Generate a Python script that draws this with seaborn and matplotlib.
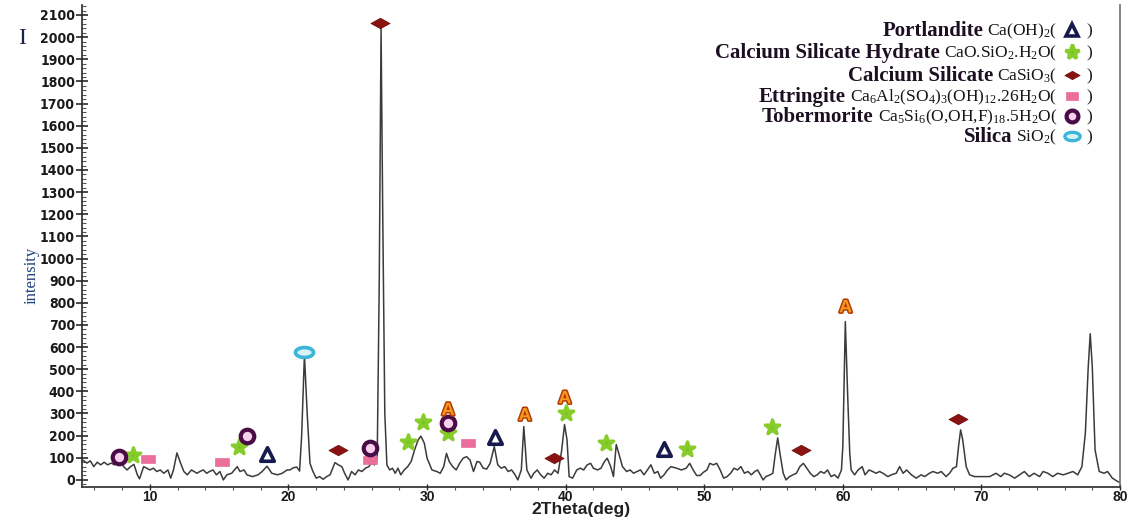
import numpy as np
import matplotlib
matplotlib.use("Agg")
import matplotlib.pyplot as plt
import seaborn as sns
from matplotlib import font_manager
from matplotlib.lines import Line2D
from matplotlib.path import Path
from matplotlib.offsetbox import TextArea, DrawingArea, HPacker, AnnotationBbox
from matplotlib.ticker import MultipleLocator
import matplotlib.patheffects as pe

# ---- XRD trace (2-theta in degrees, counts) ----
two_theta = [
    5.0, 5.2, 5.45, 5.7, 5.95, 6.2, 6.45, 6.7, 6.95, 7.2, 7.45, 7.8, 8.1, 8.35, 8.6,
    8.85, 9.1, 9.25, 9.55, 9.8, 10.0, 10.25, 10.5, 10.75, 11.0, 11.3, 11.5, 11.7, 11.95,
    12.2, 12.45, 12.7, 13.0, 13.4, 13.6, 13.85, 14.1, 14.3, 14.55, 14.8, 15.05, 15.3,
    15.55, 15.9, 16.3, 16.5, 16.8, 17.0, 17.4, 17.8, 18.1, 18.45, 18.8, 19.2, 19.55,
    19.9, 20.1, 20.35, 20.6, 20.8, 20.95, 21.15, 21.35, 21.55, 21.75, 22.0, 22.25, 22.5,
    22.75, 23.0, 23.35, 23.6, 23.85, 24.05, 24.3, 24.55, 24.8, 25.05, 25.3, 25.55, 25.8,
    26.0, 26.2, 26.4, 26.55, 26.68, 26.8, 26.95, 27.1, 27.3, 27.5, 27.7, 27.9, 28.1,
    28.35, 28.6, 28.85, 29.1, 29.35, 29.55, 29.8, 30.0, 30.35, 30.7, 30.95, 31.2, 31.4,
    31.6, 31.85, 32.1, 32.35, 32.6, 32.85, 33.1, 33.35, 33.6, 33.8, 34.05, 34.3, 34.55,
    34.85, 35.1, 35.35, 35.6, 35.85, 36.1, 36.35, 36.55, 36.8, 36.98, 37.2, 37.5, 37.7,
    37.95, 38.2, 38.45, 38.7, 38.95, 39.2, 39.45, 39.7, 39.92, 40.1, 40.25, 40.5, 40.8,
    41.05, 41.3, 41.55, 41.8, 42.0, 42.3, 42.55, 42.8, 43.0, 43.25, 43.45, 43.65, 43.9,
    44.1, 44.4, 44.65, 44.9, 45.15, 45.4, 45.65, 45.9, 46.15, 46.4, 46.65, 46.85, 47.1,
    47.35, 47.6, 48.0, 48.35, 48.7, 48.95, 49.2, 49.45, 49.7, 49.95, 50.2, 50.4, 50.65,
    50.9, 51.15, 51.4, 51.65, 51.9, 52.15, 52.4, 52.65, 52.9, 53.15, 53.4, 53.65, 53.85,
    54.05, 54.25, 54.45, 54.75, 54.95, 55.1, 55.3, 55.5, 55.7, 55.9, 56.15, 56.4, 56.65,
    56.9, 57.15, 57.4, 57.65, 57.9, 58.15, 58.4, 58.65, 58.9, 59.15, 59.4, 59.65, 59.9,
    60.0, 60.18, 60.35, 60.5, 60.6, 60.85, 61.1, 61.4, 61.6, 61.9, 62.15, 62.4, 62.65,
    62.9, 63.25, 63.5, 63.85, 64.1, 64.35, 64.6, 64.95, 65.3, 65.65, 65.9, 66.25, 66.5,
    66.85, 67.1, 67.45, 67.7, 67.95, 68.2, 68.35, 68.5, 68.65, 68.9, 69.15, 69.5, 70.1,
    70.6, 71.05, 71.4, 71.65, 72.0, 72.4, 72.75, 73.1, 73.45, 73.8, 74.2, 74.45, 74.8,
    75.15, 75.5, 75.9, 76.25, 76.6, 76.95, 77.25, 77.5, 77.7, 77.85, 78.0, 78.2, 78.5,
    78.85, 79.1, 79.45, 79.85, 80.0,
]
intensity = [
    80, 88, 76, 86, 60, 80, 68, 80, 68, 76, 68, 98, 60, 45, 60,
    70, 22, 5, 60, 52, 45, 53, 38, 45, 30, 45, 8, 45, 122,
    78, 38, 23, 45, 30, 38, 45, 30, 38, 45, 23, 38, 0,
    23, 30, 60, 38, 45, 23, 15, 23, 38, 62, 30, 23, 30,
    45, 45, 55, 58, 40, 200, 565, 300, 75, 40, 8, 15, 3,
    15, 23, 78, 68, 60, 30, 0, 38, 23, 45, 38, 53, 60,
    78, 68, 90, 900, 2040, 1200, 300, 68, 45, 53, 30, 53, 23,
    45, 60, 83, 136, 180, 198, 166, 98, 45, 38, 30, 60, 120,
    83, 60, 45, 75, 98, 105, 90, 38, 83, 80, 53, 49, 75,
    151, 68, 53, 60, 38, 45, 23, 0, 45, 241, 45, 8, 30,
    45, 23, 8, 30, 23, 45, 30, 128, 250, 180, 15, 8, 45,
    53, 45, 68, 75, 53, 45, 53, 83, 98, 60, 15, 160, 105,
    60, 38, 45, 30, 38, 45, 23, 45, 68, 30, 38, 8, 23,
    45, 60, 53, 45, 53, 75, 45, 20, 20, 35, 45, 75, 68,
    75, 45, 8, 15, 30, 53, 45, 60, 30, 38, 23, 38, 45,
    23, 0, 15, 23, 30, 105, 190, 105, 30, 0, 15, 23, 30,
    60, 75, 53, 30, 15, 23, 38, 30, 45, 15, 23, 8, 45,
    151, 715, 380, 120, 45, 23, 45, 60, 23, 45, 38, 30, 38,
    30, 15, 23, 30, 60, 30, 45, 23, 8, 23, 15, 30, 38,
    30, 38, 15, 30, 53, 60, 151, 226, 181, 60, 23, 15, 15,
    15, 30, 15, 30, 23, 8, 23, 38, 15, 30, 15, 38, 30,
    15, 30, 23, 30, 38, 23, 60, 211, 500, 660, 512, 136, 38,
    30, 38, 8, -8, -10,
]

# ---- phase identification marks (2-theta, height of the symbol) ----
portlandite_x = [18.46, 34.89, 47.11]
portlandite_y = [116, 193, 140]
csh_x = [8.8, 16.44, 28.64, 29.72, 31.52, 40.0, 42.9, 48.77, 54.92]
csh_y = [113, 150, 173, 260, 211, 301, 166, 140, 238]
cas_x = [23.59, 26.6, 39.15, 57.0, 68.32]
cas_y = [135, 2064, 100, 135, 275]
ettringite_x = [9.83, 15.17, 25.87, 32.97]
ettringite_y = [95, 83, 92, 166]
tobermorite_x = [7.79, 16.97, 25.87, 31.52]
tobermorite_y = [105, 199, 143, 256]
silica_x = [21.1]
silica_y = [578]
a_x = [31.52, 37.06, 39.94, 60.2]
a_y = [313, 289, 366, 777]

x_ticks = [10, 20, 30, 40, 50, 60, 70, 80]
y_ticks = list(range(0, 2200, 100))

# ---- fonts ----
sns.set_theme(style="white")
available = {f.name for f in font_manager.fontManager.ttflist}


def pick(*names):
    for n in names:
        if n in available:
            return n
    return "DejaVu Sans"


serif = pick("Liberation Serif", "DejaVu Serif")
sans = pick("Liberation Sans", "DejaVu Sans")
narrow = pick("Liberation Sans Narrow", "DejaVu Sans")
plt.rcParams["font.family"] = [sans, "DejaVu Sans"]
plt.rcParams["mathtext.fontset"] = "custom"
plt.rcParams["mathtext.rm"] = serif
plt.rcParams["mathtext.it"] = serif + ":italic"
plt.rcParams["mathtext.bf"] = serif + ":bold"

# ---- custom marker shapes ----
wide_diamond = Path([(-1, 0), (0, 0.55), (1, 0), (0, -0.55), (-1, 0)], closed=True)
flat_rect = Path([(-1, -0.6), (1, -0.6), (1, 0.6), (-1, 0.6), (-1, -0.6)], closed=True)
t = np.linspace(0, 2 * np.pi, 40)
eye = Path(np.column_stack([np.cos(t), 0.55 * np.sin(t)]), closed=True)

fig = plt.figure(figsize=(11.28, 5.19), dpi=100)
ax = fig.add_axes([82 / 1128, 32 / 519, 1038 / 1128, 482 / 519])

sns.lineplot(x=two_theta, y=intensity, sort=False, estimator=None,
             color="#3b3b3b", linewidth=1.1, ax=ax, zorder=2)

styles = {
    "portlandite": dict(marker="^", s=95, color="white", edgecolor="#171a4c", linewidth=2.6),
    "csh": dict(marker="*", s=120, color="#7ac41e", edgecolor="#86cc2a", linewidth=2.4),
    "cas": dict(marker=wide_diamond, s=190, color="#8c1212", edgecolor="#6a0a0a", linewidth=0.5),
    "ettringite": dict(marker=flat_rect, s=110, color="#ec6e9c", edgecolor="#ec6e9c", linewidth=0.5),
    "tobermorite": dict(marker="o", s=95, color="#f6d0ec", edgecolor="#4a0c46", linewidth=3.0),
    "silica": dict(marker=eye, s=170, color="#d8f2fa", edgecolor="#3cb6d8", linewidth=2.6),
}
for (xs, ys, key) in [
    (portlandite_x, portlandite_y, "portlandite"),
    (csh_x, csh_y, "csh"),
    (cas_x, cas_y, "cas"),
    (ettringite_x, ettringite_y, "ettringite"),
    (tobermorite_x, tobermorite_y, "tobermorite"),
    (silica_x, silica_y, "silica"),
]:
    sns.scatterplot(x=xs, y=ys, ax=ax, zorder=4, legend=False, **styles[key])

for xa, ya in zip(a_x, a_y):
    ax.text(xa, ya, "A", ha="center", va="center", fontsize=13, fontweight="bold",
            color="#f59a1c", family=[sans],
            path_effects=[pe.Stroke(linewidth=2.2, foreground="#b23a06"), pe.Normal()],
            zorder=5)

# ---- axes ----
ax.set_xlim(5.1, 80)
ax.set_ylim(-32, 2145)
ax.set_xticks(x_ticks)
ax.set_yticks(y_ticks)
ax.xaxis.set_minor_locator(MultipleLocator(2))
ax.yaxis.set_minor_locator(MultipleLocator(20))
for side in ["left", "bottom", "right"]:
    ax.spines[side].set_visible(True)
    ax.spines[side].set_color("#2a2a2a")
    ax.spines[side].set_linewidth(1.2)
ax.spines["right"].set_color("#707070")
ax.spines["top"].set_visible(False)

ax.tick_params(axis="y", which="major", direction="inout", length=8, width=1.2,
               color="#2a2a2a", pad=1, left=True)
ax.tick_params(axis="y", which="minor", direction="in", length=3, width=0.8,
               color="#555555", left=True)
ax.tick_params(axis="x", which="major", direction="inout", length=4, width=1.0,
               color="#2a2a2a", pad=0, bottom=True)
ax.tick_params(axis="x", which="minor", direction="out", length=2.5, width=0.8,
               color="#555555", bottom=True)
for lab in ax.get_yticklabels():
    lab.set_fontfamily([narrow])
    lab.set_fontweight("bold")
    lab.set_fontstretch("condensed")
    lab.set_fontsize(10)
    lab.set_color("#1a1a1a")
for lab in ax.get_xticklabels():
    lab.set_fontfamily([sans])
    lab.set_fontweight("bold")
    lab.set_fontsize(10)
    lab.set_color("#1a1a1a")

ax.set_xlabel("2Theta(deg)", fontsize=12.5, fontweight="bold", color="#1f1f1f",
              family=[sans])
ax.xaxis.set_label_coords(0.481, -0.032)
ax.set_ylabel("intensity", fontsize=12, color="#1e3f7a", family=[serif])
ax.yaxis.set_label_coords(-0.041, 0.44)
fig.text(22 / 1128, 1 - 38 / 519, "I", fontsize=17, color="#1b2250", family=[serif],
         ha="center", va="center")

# ---- phase key ----
key_rows = [
    ("Portlandite", "Ca(OH)$_2$(", "portlandite", 31),
    ("Calcium Silicate Hydrate", "CaO.SiO$_2$.H$_2$O(", "csh", 53),
    ("Calcium Silicate", "CaSiO$_3$(", "cas", 76),
    ("Ettringite", "Ca$_6$Al$_2$(SO$_4$)$_3$(OH)$_{12}$.26H$_2$O(", "ettringite", 97),
    ("Tobermorite", "Ca$_5$Si$_6$(O,OH,F)$_{18}$.5H$_2$O(", "tobermorite", 117),
    ("Silica", "SiO$_2$(", "silica", 137),
]
key_marker = {
    "portlandite": dict(marker="^", markersize=9, mfc="white", mec="#171a4c", mew=2.6),
    "csh": dict(marker="*", markersize=11, mfc="#7ac41e", mec="#86cc2a", mew=2.4),
    "cas": dict(marker=wide_diamond, markersize=11, mfc="#8c1212", mec="#6a0a0a", mew=0.5),
    "ettringite": dict(marker=flat_rect, markersize=9, mfc="#ec6e9c", mec="#ec6e9c", mew=0.5),
    "tobermorite": dict(marker="o", markersize=8.5, mfc="#f6d0ec", mec="#4a0c46", mew=3.0),
    "silica": dict(marker=eye, markersize=11, mfc="#d8f2fa", mec="#3cb6d8", mew=2.4),
}
for name, formula, key, ypix in key_rows:
    name_area = TextArea(name, textprops=dict(fontsize=15, fontweight="bold",
                                              color="#1d0f22", family=[serif]))
    form_area = TextArea(formula, textprops=dict(fontsize=12.5, color="#151515",
                                                 family=[serif]))
    da = DrawingArea(15, 13, 0, 3)
    da.add_artist(Line2D([7.5], [4.3], linestyle="none", **key_marker[key]))
    close_area = TextArea(")", textprops=dict(fontsize=12.5, color="#151515",
                                              family=[serif]))
    row = HPacker(children=[name_area, form_area, da, close_area], align="baseline",
                  pad=0, sep=3)
    ab = AnnotationBbox(row, (1092, 519 - ypix), xycoords="figure pixels",
                        box_alignment=(1, 0.5), frameon=False, pad=0)
    fig.add_artist(ab)

fig.savefig("out.png", dpi=100, facecolor="white")
